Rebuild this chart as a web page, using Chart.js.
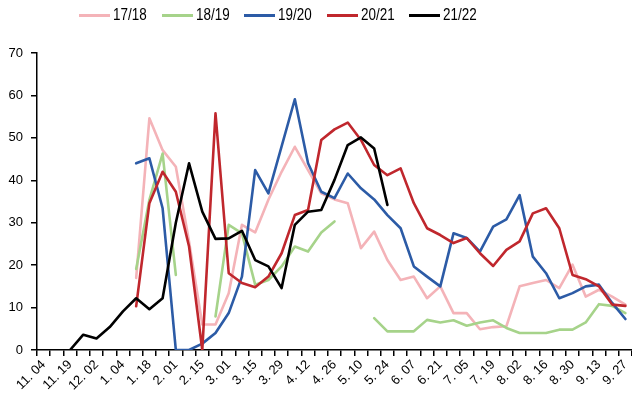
<!DOCTYPE html>
<html>
<head>
<meta charset="utf-8">
<script src="https://cdn.jsdelivr.net/npm/chart.js@4.4.0/dist/chart.umd.min.js"></script>
<style>
  html, body { margin: 0; padding: 0; background: #fff; overflow: hidden; }
  .wrap { position: relative; width: 632px; height: 401px; }
  #legend {
    position: absolute; left: 79px; top: 6px; display: flex; align-items: center;
    font-family: "Liberation Sans", Arial, sans-serif;
    font-size: 16px; color: #000; line-height: 18px;
  }
  .item { display: flex; align-items: center; width: 82.5px; }
  .swatch { width: 31px; height: 3px; margin-right: 3px; flex: none; }
  .txt { display: inline-block; transform: scaleX(0.84); transform-origin: left center; white-space: nowrap; }
</style>
</head>
<body>
<div class="wrap">
  <canvas id="chart" width="632" height="401"></canvas>
  <div id="legend"></div>
</div>
<script>
// semanas (so as pares aparecem no eixo)
const weeks = [
  "11. 04", "11. 11", "11. 19", "11. 25", "12. 02", "12. 16", "1. 04", "1. 11",
  "1. 18", "1. 25", "2. 01", "2. 08", "2. 15", "2. 22", "3. 01", "3. 08",
  "3. 15", "3. 22", "3. 29", "4. 05", "4. 12", "4. 19", "4. 26", "5. 03",
  "5. 10", "5. 17", "5. 24", "5. 31", "6. 07", "6. 14", "6. 21", "6. 28",
  "7. 05", "7. 12", "7. 19", "7. 26", "8. 02", "8. 09", "8. 16", "8. 23",
  "8. 30", "9. 06", "9. 13", "9. 20", "9. 27"
];

const yTicks = [0, 10, 20, 30, 40, 50, 60, 70];

const seasonNames = ["17/18", "18/19", "19/20", "20/21", "21/22"];
const seasonColors = ["#F4B3B8", "#A6D38A", "#2C5BA6", "#C0272D", "#000000"];

const s1718 = [null, null, null, null, null, null, null, 17,
  54.6, 47.1, 43.2, 25.5, 6.0, 6.0, 13.4, 29.5,
  27.7, 35.4, 42.0, 47.9, 42.4, 36.9, 35.5, 34.6,
  24.0, 27.9, 21.2, 16.5, 17.3, 12.2, 15.0, 8.7,
  8.7, 4.9, 5.4, 5.6, 15.0, 15.8, 16.5, 14.6,
  20.1, 12.6, 14.2, 12.6, 10.7];

const s1819 = [null, null, null, null, null, null, null, 19.1,
  35.4, 46.3, 17.7, null, null, 7.9, 29.5, 27.5,
  15.4, 16.5, 19.7, 24.4, 23.2, 27.7, 30.3, null,
  null, 7.5, 4.4, 4.4, 4.4, 7.1, 6.5, 7.0,
  5.7, 6.5, 7.0, 5.2, 4.0, 4.0, 4.0, 4.8,
  4.8, 6.5, 10.8, 10.4, 8.7];

const s1920 = [null, null, null, null, null, null, null, 44.0,
  45.2, 33.4, 0, 0, 1.5, 4.0, 8.7, 17.3,
  42.4, 36.9, 48.0, 59.1, 44.0, 37.3, 35.8, 41.6,
  38.1, 35.5, 31.8, 28.7, 19.7, 17.3, 15.0, 27.5,
  26.4, 23.2, 29.1, 30.8, 36.5, 22.0, 18.1, 12.2,
  13.4, 15.0, 15.4, 11.1, 7.3];

const s2021 = [null, null, null, null, null, null, null, 10.3,
  34.6, 42.0, 37.3, 24.4, 0, 55.8, 18.1, 15.8,
  14.8, 17.3, 22.8, 31.8, 33.0, 49.5, 52.0, 53.6,
  49.5, 43.6, 41.2, 42.8, 34.6, 28.7, 27.1, 25.2,
  26.4, 22.8, 19.8, 23.6, 25.6, 32.2, 33.4, 28.7,
  17.7, 16.7, 15.0, 10.7, 10.4];

const s2122 = [null, null, 0, 3.6, 2.7, 5.4, 9.1, 12.2,
  9.6, 12.2, 30.0, 44.0, 32.6, 26.2, 26.3, 28.1,
  21.2, 19.7, 14.6, 29.5, 32.6, 33.0, 40.1, 48.3,
  50.1, 47.5, 34.2];

const seriesList = [s1718, s1819, s1920, s2021, s2122];

// o preto fica por cima, depois o vermelho...
const datasets = seriesList.map((data, i) => ({
  label: seasonNames[i],
  data: data,
  borderColor: seasonColors[i],
  backgroundColor: seasonColors[i],
  borderWidth: 2.6,
  pointRadius: 0,
  tension: 0,
  spanGaps: false,
  borderJoinStyle: "round",
  borderCapStyle: "round",
  order: seriesList.length - i,
}));

// legenda em html
const legend = document.getElementById("legend");
seasonNames.forEach((name, i) => {
  legend.insertAdjacentHTML(
    "beforeend",
    `<div class="item"><span class="swatch" style="background:${seasonColors[i]}"></span><span class="txt">${name}</span></div>`
  );
});

const ctx = document.getElementById("chart");

new Chart(ctx, {
  type: "line",
  data: { labels: weeks, datasets: datasets },
  options: {
    responsive: false,
    animation: false,
    devicePixelRatio: 1,
    layout: { padding: { top: 53, left: 0, right: 0, bottom: 0 } },
    plugins: {
      legend: { display: false },
      tooltip: { enabled: false },
    },
    scales: {
      x: {
        offset: true,
        grid: {
          offset: true,
          drawOnChartArea: false,
          tickLength: 6,
          color: "#000",
          lineWidth: 1.5,
        },
        border: { color: "#000", width: 1.5 },
        ticks: {
          autoSkip: false,
          minRotation: 45,
          maxRotation: 45,
          padding: 1,
          color: "#000",
          font: { family: "Liberation Sans", size: 13 },
          callback: function (value, index) {
            return index % 2 === 0 ? this.getLabelForValue(value) : "";
          },
        },
        afterFit: (scale) => {
          scale.height = 51;
          scale.paddingLeft = 0;
          scale.paddingRight = 0;
        },
      },
      y: {
        min: yTicks[0],
        max: yTicks[yTicks.length - 1],
        afterBuildTicks: (scale) => {
          scale.ticks = yTicks.map((v) => ({ value: v }));
        },
        grid: {
          drawOnChartArea: false,
          tickLength: 6,
          color: "#000",
          lineWidth: 1.5,
        },
        border: { color: "#000", width: 1.5 },
        ticks: {
          padding: 8,
          color: "#000",
          font: { family: "Liberation Sans", size: 13 },
        },
        afterFit: (scale) => {
          scale.width = 37;
        },
      },
    },
  },
});
</script>
</body>
</html>
